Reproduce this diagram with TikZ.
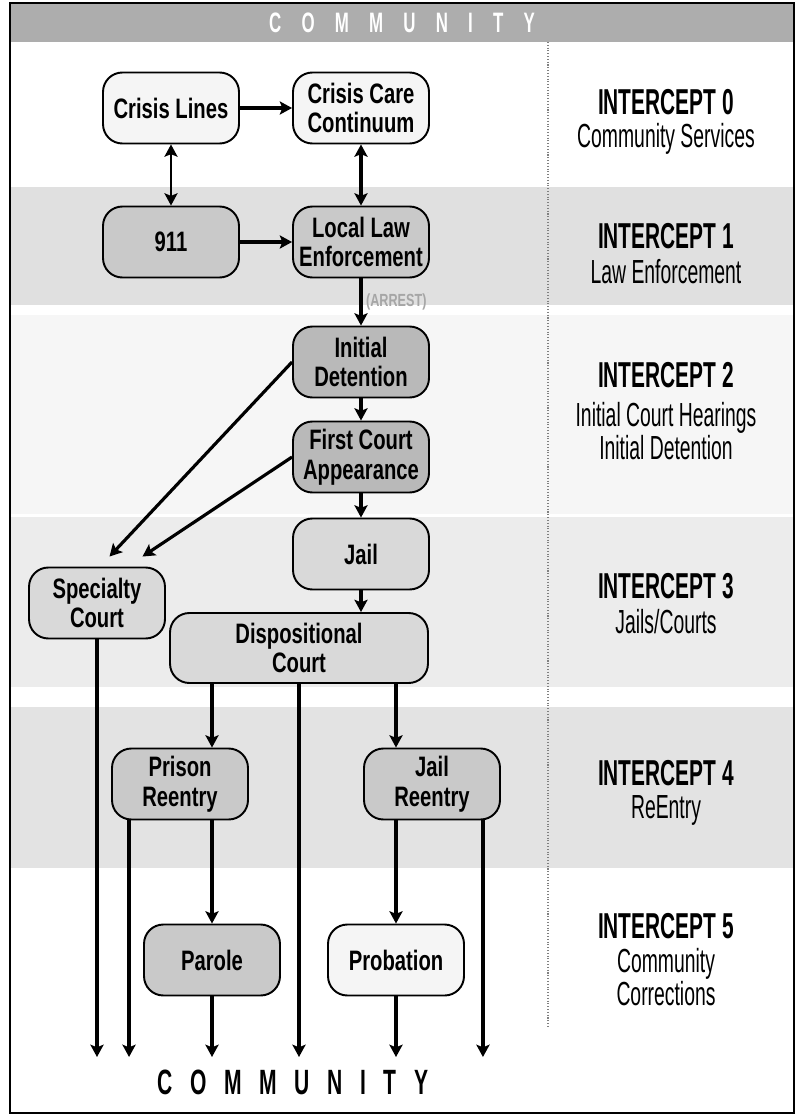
\documentclass[tikz,border=0pt]{standalone}
\usepackage{fontspec}
\setmainfont{Liberation Sans}
\newfontfamily\boxfont[FakeStretch=0.72]{Liberation Sans}
\newfontfamily\sidefont[FakeStretch=0.58]{Liberation Sans}
\newfontfamily\bannerfont[FakeStretch=0.6]{Liberation Sans}
\usetikzlibrary{arrows.meta}

\tikzset{
  stage/.style={draw=black, line width=1.1pt, rounded corners=11pt,
    minimum width=2.72cm, minimum height=1.42cm, align=center, inner sep=1pt,
    font=\boxfont\bfseries\fontsize{16}{17}\selectfont},
  pale/.style={stage, fill=gray!8},
  mid/.style={stage, fill=gray!42},
  deep/.style={stage, fill=gray!55},
  soft/.style={stage, fill=gray!30},
  flow/.style={line width=1.8pt, -{Stealth[length=7pt,width=7.5pt,inset=1.5pt]}},
  twoway/.style={line width=1.8pt, {Stealth[length=7pt,width=7.5pt,inset=1.5pt]}-{Stealth[length=7pt,width=7.5pt,inset=1.5pt]}},
  arrest/.style={right, inner sep=2pt, text=gray!70,
    font=\boxfont\bfseries\fontsize{10}{10}\selectfont},
  ititle/.style={inner sep=1pt, font=\sidefont\bfseries\fontsize{20.5}{20.5}\selectfont},
  isub/.style={inner sep=1pt, align=center, font=\sidefont\fontsize{19}{19}\selectfont},
}

\begin{document}
\begin{tikzpicture}[x=0.02cm, y=-0.02cm]
  \useasboundingbox (0,0) rectangle (797,1116);

  % bands
  \fill[gray!24] (10,187) rectangle (794,305);
  \fill[gray!7]  (10,315) rectangle (794,514);
  \fill[gray!15] (10,517) rectangle (794,687);
  \fill[gray!22] (10,707) rectangle (794,868);
  \fill[gray!64] (10,3) rectangle (794,42);
  \draw[gray, densely dotted, line width=0.6pt] (548,42) -- (548,1028);
  \draw[line width=1.6pt] (10,3) rectangle (794,1113);

  \node[text=white, font=\bannerfont\bfseries\fontsize{16}{16}\selectfont]
    (banner) at (402,23) {\spaceskip=11.5pt C O M M U N I T Y};

  % intercept 0 - 1
  \node[pale] (cl)  at (171,108) {Crisis Lines};
  \node[pale] (ccc) at (361,108) {Crisis Care\\Continuum};
  \node[mid]  (n911) at (171,242) {911};
  \node[mid]  (lle) at (361,242) {Local Law\\Enforcement};

  % intercept 2 - 3
  \node[deep] (id)   at (361,362) {Initial\\Detention};
  \node[deep] (fca)  at (361,457) {First Court\\Appearance};
  \node[soft] (jail) at (361,554) {Jail};
  \node[soft] (sc)   at (97,603) {Specialty\\Court};
  \node[soft, minimum width=5.16cm, minimum height=1.4cm] (dc) at (299,648) {Dispositional\\Court};

  % intercept 4 - 5
  \node[mid]  (pr)  at (180,784) {Prison\\Reentry};
  \node[mid]  (jr)  at (432,784) {Jail\\Reentry};
  \node[mid]  (parole)    at (212,960) {Parole};
  \node[pale] (probation) at (396,960) {Probation};

  \coordinate (floor) at (0,1057);
  \coordinate (prL) at ([xshift=0.36cm]pr.south west);
  \coordinate (jrR) at ([xshift=-0.36cm]jr.south east);

  \draw[flow] (cl) -- (ccc);
  \draw[twoway, line width=1.1pt] (cl) -- (n911);
  \draw[twoway] (ccc) -- (lle);
  \draw[flow] (n911) -- (lle);
  \draw[flow] (lle) -- node[arrest] {(ARREST)} (id);
  \draw[flow] (id) -- (fca);
  \draw[flow] (fca) -- (jail);
  \draw[flow] (jail) -- (jail |- dc.north);
  \draw[flow] (id.west) -- ([xshift=0.25cm,yshift=0.2cm]sc.north);
  \draw[flow] (fca.west) -- ([xshift=0.91cm,yshift=0.2cm]sc.north);

  \draw[flow] (sc) -- (sc |- floor);
  \draw[flow] (dc.south -| parole) -- (pr.north -| parole);
  \draw[flow] (dc) -- (dc |- floor);
  \draw[flow] (dc.south -| probation) -- (jr.north -| probation);
  \draw[flow] (prL) -- (prL |- floor);
  \draw[flow] (pr.south -| parole) -- (parole);
  \draw[flow] (parole) -- (parole |- floor);
  \draw[flow] (jr.south -| probation) -- (probation);
  \draw[flow] (probation) -- (probation |- floor);
  \draw[flow] (jrR) -- (jrR |- floor);

  \node[font=\bannerfont\bfseries\fontsize{20}{20}\selectfont]
    (bottom) at (293,1082) {\spaceskip=10pt C O M M U N I T Y};

  % side column
  \node[ititle] (t0) at (666,102) {INTERCEPT 0};
  \node[isub]   (s0) at (666,139) {Community Services};
  \node[ititle] (t1) at (666,236) {INTERCEPT 1};
  \node[isub]   (s1) at (666,272) {Law Enforcement};
  \node[ititle] (t2) at (666,375) {INTERCEPT 2};
  \node[isub]   (s2) at (666,431) {Initial Court Hearings\\Initial Detention};
  \node[ititle] (t3) at (666,586) {INTERCEPT 3};
  \node[isub]   (s3) at (666,622) {Jails/Courts};
  \node[ititle] (t4) at (666,773) {INTERCEPT 4};
  \node[isub]   (s4) at (666,810) {ReEntry};
  \node[ititle] (t5) at (666,926) {INTERCEPT 5};
  \node[isub]   (s5) at (666,977) {Community\\Corrections};
\end{tikzpicture}
\end{document}
